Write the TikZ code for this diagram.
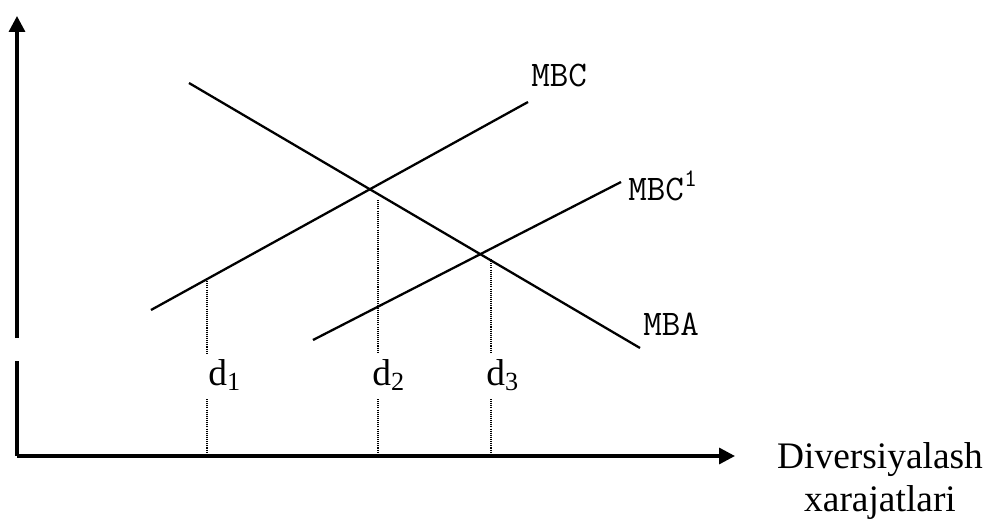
\documentclass[tikz,border=0pt]{standalone}
\usepackage{fontspec}
\setmainfont{Liberation Serif}
\usetikzlibrary{arrows.meta, positioning}

\begin{document}
\begin{tikzpicture}[
    x=0.02cm, y=-0.02cm,
    axis/.style={line width=1.9pt, -{Triangle[length=9pt, width=9pt]}},
    axisline/.style={line width=1.9pt},
    curve/.style={line width=1.3pt},
    guide/.style={line width=0.6pt, dash pattern=on 0.6pt off 0.6pt},
    curvelabel/.style={font=\fontsize{20.5}{22}\selectfont\ttfamily, inner sep=0pt, anchor=base west},
    dlabel/.style={font=\fontsize{21.3}{24}\selectfont, inner sep=0pt, anchor=base west},
    axislabel/.style={font=\fontsize{21.3}{24.4}\selectfont, inner sep=0pt, align=center, anchor=north}
]
\useasboundingbox (0,0) rectangle (987,521);

% Axes
\coordinate (origin) at (17,456);
\coordinate (ytop) at (17,16);
\coordinate (ygapa) at (17,338);
\coordinate (ygapb) at (17,361);
\coordinate (xend) at (735,456);
\draw[axis] (ygapa) -- (ytop);
\draw[axisline] (ygapb) -- (origin);
\draw[axis] (origin) -- (xend);

% Curves
\coordinate (mbcA) at (151,310);
\coordinate (mbcB) at (528,102);
\coordinate (mbcoA) at (313,340);
\coordinate (mbcoB) at (621,182);
\coordinate (mbaA) at (189,83);
\coordinate (mbaB) at (640,348);
\draw[curve] (mbcA) -- (mbcB);
\draw[curve] (mbcoA) -- (mbcoB);
\draw[curve] (mbaA) -- (mbaB);

\node[curvelabel] (mbc) at (531,86) {MBC};
\node[curvelabel] (mbco) at (628,200) {MBC\textsuperscript{1}};
\node[curvelabel] (mba) at (643,335) {MBA};

% Guides
\foreach \name/\x/\top in {one/207/279, two/378/200, three/491/259} {
    \coordinate (\name top) at (\x,\top);
    \coordinate (\name mid) at (\x,353);
    \coordinate (\name low) at (\x,399);
    \coordinate (\name bot) at (\x,456);
    \draw[guide] (\name top) -- (\name mid);
    \draw[guide] (\name low) -- (\name bot);
}

\node[dlabel] (d1) at (208,385) {d\textsubscript{1}};
\node[dlabel] (d2) at (372,385) {d\textsubscript{2}};
\node[dlabel] (d3) at (486,385) {d\textsubscript{3}};

\node[axislabel] (xlabel) at (880,442) {Diversiyalash\\xarajatlari};
\end{tikzpicture}
\end{document}
